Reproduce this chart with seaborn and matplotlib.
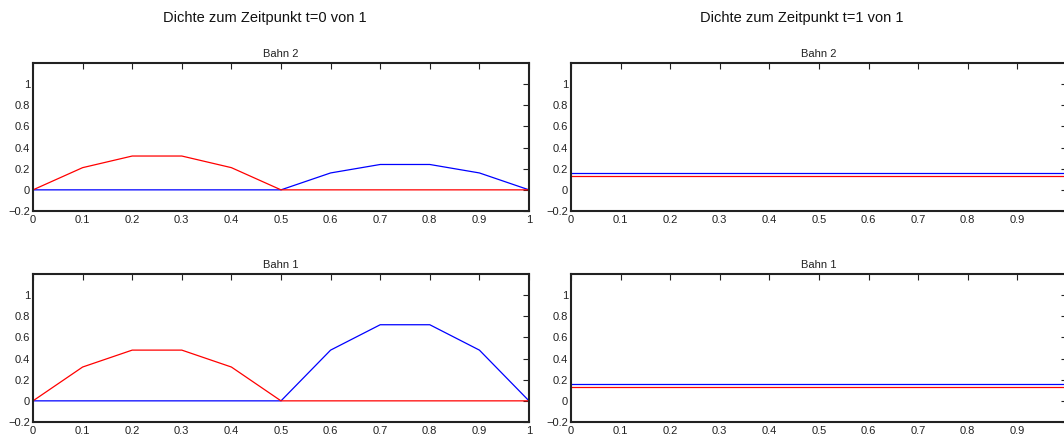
import numpy as np
import seaborn as sns
import matplotlib
matplotlib.use("Agg")
import matplotlib.pyplot as plt
from matplotlib.ticker import FuncFormatter

# === Data ===
x_grid = [0, 0.1, 0.2, 0.3, 0.4, 0.5, 0.6, 0.7, 0.8, 0.9, 1.0]

# t=0, Bahn 2
bahn2_t0_red = [0, 0.21, 0.32, 0.32, 0.21, 0, 0, 0, 0, 0, 0]
bahn2_t0_blue = [0, 0, 0, 0, 0, 0, 0.16, 0.24, 0.24, 0.16, 0]
# t=0, Bahn 1
bahn1_t0_red = [0, 0.32, 0.48, 0.48, 0.32, 0, 0, 0, 0, 0, 0]
bahn1_t0_blue = [0, 0, 0, 0, 0, 0, 0.48, 0.72, 0.72, 0.48, 0]
# t=1, Bahn 2
bahn2_t1_red = [0.13, 0.13, 0.13, 0.13, 0.13, 0.13, 0.13, 0.13, 0.13, 0.13, 0.13]
bahn2_t1_blue = [0.16, 0.16, 0.16, 0.16, 0.16, 0.16, 0.16, 0.16, 0.16, 0.16, 0.16]
# t=1, Bahn 1
bahn1_t1_red = [0.13, 0.13, 0.13, 0.13, 0.13, 0.13, 0.13, 0.13, 0.13, 0.13, 0.13]
bahn1_t1_blue = [0.16, 0.16, 0.16, 0.16, 0.16, 0.16, 0.16, 0.16, 0.16, 0.16, 0.16]

x_ticks = [0, 0.1, 0.2, 0.3, 0.4, 0.5, 0.6, 0.7, 0.8, 0.9, 1]
y_ticks = [-0.2, 0, 0.2, 0.4, 0.6, 0.8, 1]

column_titles = ["Dichte zum Zeitpunkt t=0 von 1", "Dichte zum Zeitpunkt t=1 von 1"]
row_titles = ["Bahn 2", "Bahn 1"]

# === Style ===
sns.set_style("white")
plt.rcParams['font.family'] = ['Liberation Sans', 'DejaVu Sans']


def fmt(v, pos):
    s = f"{v:g}"
    if s == "-0":
        s = "0"
    return s.replace("-", "\u2212")


def style_axes(ax, title):
    ax.set_xlim(0, 1)
    ax.set_ylim(-0.2, 1.2)
    ax.set_xticks(x_ticks)
    ax.set_yticks(y_ticks)
    ax.xaxis.set_major_formatter(FuncFormatter(fmt))
    ax.yaxis.set_major_formatter(FuncFormatter(fmt))
    ax.tick_params(direction="in", top=True, right=True, length=4, width=0.8,
                   labelsize=8, colors="#222222", pad=2)
    ax.tick_params(axis="x", pad=3)
    for sp in ax.spines.values():
        sp.set_visible(True)
        sp.set_linewidth(1.5)
        sp.set_color("#222222")
    ax.set_title(title, fontsize=8, pad=4, color="#222222")
    ax.set_xlabel("")
    ax.set_ylabel("")


fig = plt.figure(figsize=(10.64, 4.41), dpi=100)

w = 496 / 1064
lefts = [33 / 1064, 571 / 1064]
bottoms = [1 - 211 / 441, 1 - 422 / 441]
h = 148 / 441

panels = [
    [(bahn2_t0_blue, bahn2_t0_red), (bahn2_t1_blue, bahn2_t1_red)],
    [(bahn1_t0_blue, bahn1_t0_red), (bahn1_t1_blue, bahn1_t1_red)],
]

for r in range(2):
    for c in range(2):
        ax = fig.add_axes([lefts[c], bottoms[r], w, h])
        blue, red = panels[r][c]
        sns.lineplot(x=x_grid, y=blue, color="#0000ff", linewidth=0.9, ax=ax)
        sns.lineplot(x=x_grid, y=red, color="#ff0000", linewidth=0.9, ax=ax)
        style_axes(ax, row_titles[r])

fig.text(265 / 1064, 1 - 18 / 441, column_titles[0], ha="center", va="center",
         fontsize=10.5, color="#111111")
fig.text(802 / 1064, 1 - 18 / 441, column_titles[1], ha="center", va="center",
         fontsize=10.5, color="#111111")

fig.savefig("out.png", dpi=100)
plt.close(fig)
